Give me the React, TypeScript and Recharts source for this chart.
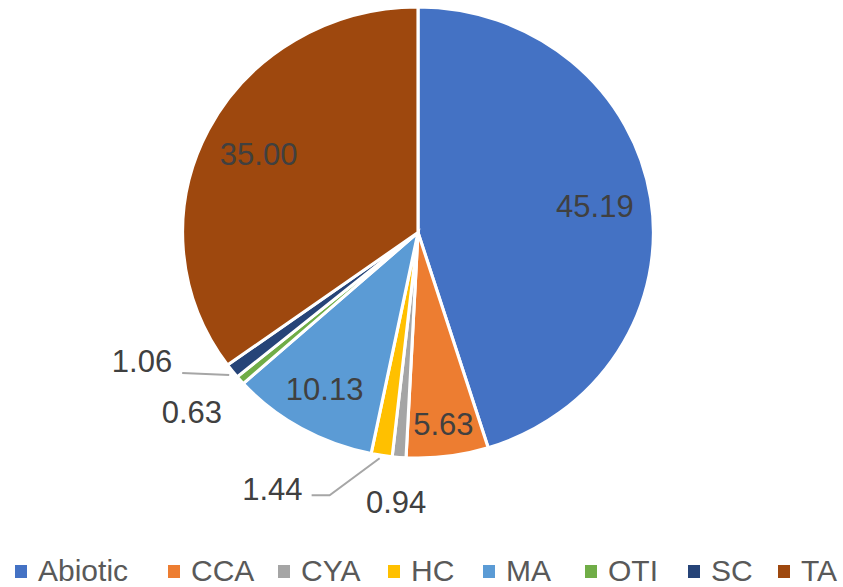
import React from "react";
import { PieChart, Pie, Cell, Legend } from "recharts";

const categories = ["Abiotic", "CCA", "CYA", "HC", "MA", "OTI", "SC", "TA"];
const shares = [45.19, 5.63, 0.94, 1.44, 10.13, 0.63, 1.06, 35.0];
const colors = ["#4472C4", "#ED7D31", "#A5A5A5", "#FFC000", "#5B9BD5", "#70AD47", "#264478", "#9E480E"];

const data = categories.map((name, i) => ({ name, value: shares[i] }));

const RAD = Math.PI / 180;
const FONT = "'Liberation Sans', Arial, sans-serif";
const CX = 418;
const CY = 232.5;
const STRETCH = 1.044; // the original pie is slightly wider than tall

// legend item left edges, copied from the original layout
const legendX = [15, 168, 278, 388, 483, 585, 688, 778];

// small slices get their labels outside, offsets relative to the slice edge
const outside: Record<string, { dx: number; dy: number; anchor: string; line?: number[][] }> = {
  SC: { dx: -60, dy: -9, anchor: "end", line: [[-3, 4], [-50, 2]] },
  OTI: { dx: -18, dy: 32, anchor: "end" },
  HC: { dx: -79, dy: 34, anchor: "end", line: [[-2, 3], [-52, 40], [-70, 40]] },
  CYA: { dx: -3, dy: 45, anchor: "middle" },
};

function renderLabel(props: any) {
  const { cx, cy, midAngle, outerRadius, value, name } = props;
  const cos = Math.cos(-midAngle * RAD);
  const sin = Math.sin(-midAngle * RAD);
  const txt = Number(value).toFixed(2);
  const o = outside[name];
  // labels sit outside the stretched pie layer, so stretch their x by hand
  const px = (r: number) => cx + r * cos * STRETCH;
  const py = (r: number) => cy + r * sin;
  if (!o) {
    const r = outerRadius * (value > 20 ? 0.76 : value > 8 ? 0.8 : 0.86);
    return (
      <text x={px(r)} y={py(r)} fill="#404040" fontSize={31} fontFamily={FONT}
        textAnchor="middle" dominantBaseline="central">{txt}</text>
    );
  }
  const ex = px(outerRadius);
  const ey = py(outerRadius);
  return (
    <g>
      {o.line && (
        <polyline points={o.line.map(p => `${ex + p[0]},${ey + p[1]}`).join(" ")}
          fill="none" stroke="#A6A6A6" strokeWidth={2} />
      )}
      <text x={ex + o.dx} y={ey + o.dy} fill="#404040" fontSize={31} fontFamily={FONT}
        textAnchor={o.anchor as any} dominantBaseline="central">{txt}</text>
    </g>
  );
}

function LegendContent() {
  return (
    <div style={{ position: "relative", height: 36, fontFamily: FONT, fontSize: 30, color: "#595959" }}>
      {categories.map((c, i) => (
        <div key={c} style={{ position: "absolute", left: legendX[i], top: 0, height: 36, display: "flex", alignItems: "center", whiteSpace: "nowrap" }}>
          <span style={{ width: 12, height: 13, background: colors[i], marginRight: 11, display: "inline-block" }} />
          <span>{c}</span>
        </div>
      ))}
    </div>
  );
}

export default function App() {
  return (
    <div style={{ position: "absolute", left: 0, top: 0, width: 843, height: 587, background: "#fff" }}>
      <style>{`.recharts-pie-sector { transform: scaleX(${STRETCH}); transform-origin: ${CX}px ${CY}px; }`}</style>
      <PieChart width={843} height={587} margin={{ top: 0, right: 0, bottom: 0, left: 0 }}>
        <Pie data={data} dataKey="value" nameKey="name" cx={CX} cy={CY} outerRadius={225.5}
          startAngle={90} endAngle={-270} stroke="#fff" strokeWidth={3}
          label={renderLabel} labelLine={false} isAnimationActive={false}>
          {data.map((d, i) => <Cell key={d.name} fill={colors[i]} />)}
        </Pie>
        <Legend content={<LegendContent />} wrapperStyle={{ position: "absolute", left: 0, top: 553, width: 843 }} />
      </PieChart>
    </div>
  );
}
